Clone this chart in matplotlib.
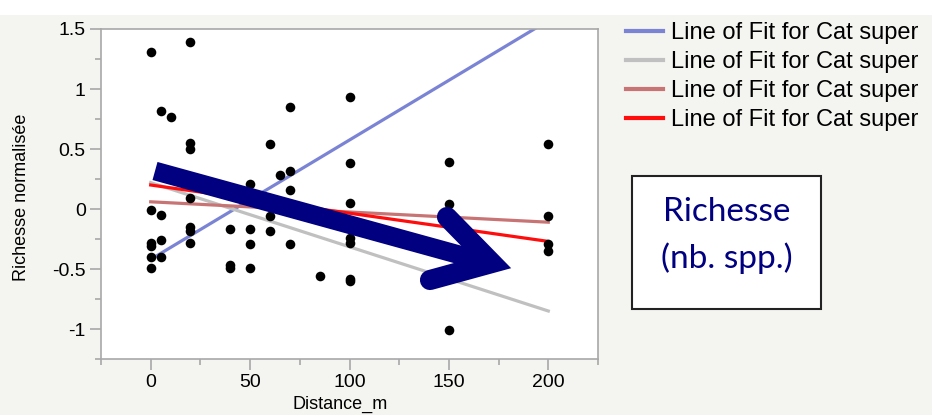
import numpy as np
import matplotlib
matplotlib.use('Agg')
import matplotlib.pyplot as plt
from matplotlib.lines import Line2D
from matplotlib.patches import Rectangle
from matplotlib.transforms import Affine2D
from matplotlib.ticker import MultipleLocator

plt.rcParams['font.family'] = ['Liberation Sans', 'DejaVu Sans']

# points (Distance_m, Richesse normalisee)
dist = [0, 0, 0, 0, 0, 0,
        5, 5, 5, 5,
        10,
        20, 20, 20, 20, 20, 20, 20,
        40, 40, 40,
        50, 50, 50, 50,
        60, 60, 60,
        65,
        70, 70, 70, 70,
        85,
        100, 100, 100, 100, 100, 100, 100,
        150, 150, 150,
        200, 200, 200, 200]
rich = [1.31, -0.01, -0.28, -0.31, -0.40, -0.49,
        0.82, -0.05, -0.26, -0.40,
        0.77,
        1.39, 0.55, 0.50, 0.09, -0.15, -0.18, -0.28,
        -0.17, -0.47, -0.49,
        0.21, -0.17, -0.29, -0.49,
        0.54, -0.06, -0.18,
        0.28,
        0.85, 0.32, 0.16, -0.29,
        -0.56,
        0.93, 0.38, 0.05, -0.24, -0.28, -0.58, -0.60,
        0.39, 0.04, -1.01,
        0.54, -0.06, -0.29, -0.35]

# lines of fit (values at x=0 and x=200)
fit_x = [0, 200]
fit_y = [[-0.42, 1.57],
         [0.22, -0.85],
         [0.06, -0.11],
         [0.20, -0.27]]
fit_colors = ['#7b84d4', '#c0c0c0', '#c87474', '#ff0d0d']
fit_label = 'Line of Fit for Cat super'

W, H = 932, 415
fig = plt.figure(figsize=(W / 100, H / 100), dpi=100)
fig.patch.set_facecolor('#f4f4f0')
px = Affine2D().scale(1, -1).translate(0, H)  # pixel coords from top-left

# white strip at the top
fig.add_artist(Rectangle((0, 0), W, 15, transform=px, facecolor='white',
                         edgecolor='none', zorder=0))

ax = fig.add_axes([101 / W, (H - 359) / H, 497 / W, 330 / H])
ax.set_facecolor('white')
for i in range(4):
    ax.plot(fit_x, fit_y[i], color=fit_colors[i], lw=2.3, zorder=2)
ax.scatter(dist, rich, s=48, color='black', zorder=3, linewidths=0)

ax.set_xlim(-25, 225)
ax.set_ylim(-1.25, 1.5)
ax.xaxis.set_major_locator(MultipleLocator(50))
ax.xaxis.set_minor_locator(MultipleLocator(25))
ax.yaxis.set_major_locator(MultipleLocator(0.5))
ax.yaxis.set_minor_locator(MultipleLocator(0.25))
ax.set_xticks([0, 50, 100, 150, 200])
ax.set_xticklabels(['0', '50', '100', '150', '200'])
ax.set_yticks([-1, -0.5, 0, 0.5, 1, 1.5])
ax.set_yticklabels(['-1', '-0.5', '0', '0.5', '1', '1.5'])
for s in ax.spines.values():
    s.set_color('#a8a8a8')
    s.set_linewidth(1.2)
ax.tick_params(which='major', length=8, width=1.2, color='#a8a8a8',
               labelsize=14, pad=3)
ax.tick_params(which='minor', length=4, width=1.2, color='#a8a8a8')
ax.set_xlabel('Distance_m', fontsize=13)
ax.set_ylabel('Richesse normalisée', fontsize=13)
ax.xaxis.set_label_coords(0.481, -0.112)
ax.yaxis.set_label_coords(-0.142, 0.49)

# legend
handles = [Line2D([], [], color=c, lw=3) for c in fit_colors]
fig.legend(handles, [fit_label] * 4, loc='upper left',
           bbox_to_anchor=(626 / W, (H - 22) / H), frameon=False,
           fontsize=17, handlelength=1.57, handletextpad=0.34,
           labelspacing=0.3, borderpad=0, borderaxespad=0)

# big arrow
navy = '#000080'
fig.add_artist(Line2D([155, 478], [171, 260], transform=px, color=navy,
                      lw=13.5, solid_capstyle='butt', zorder=5))
fig.add_artist(Line2D([447, 492, 430], [217, 263, 280], transform=px,
                      color=navy, lw=14.5, solid_capstyle='round',
                      solid_joinstyle='miter', zorder=5))

# text box
fig.add_artist(Rectangle((632, 176), 189, 133, transform=px,
                         facecolor='white', edgecolor='#222222', lw=1.5,
                         zorder=4))
fig.text(727 / W, (H - 212) / H, 'Richesse', family='Lato', fontsize=24,
         color=navy, ha='center', va='center', zorder=6)
fig.text(727 / W, (H - 258) / H, '(nb. spp.)', family='Lato', fontsize=24,
         color=navy, ha='center', va='center', zorder=6)

fig.savefig('out.png', dpi=100, facecolor=fig.get_facecolor())
